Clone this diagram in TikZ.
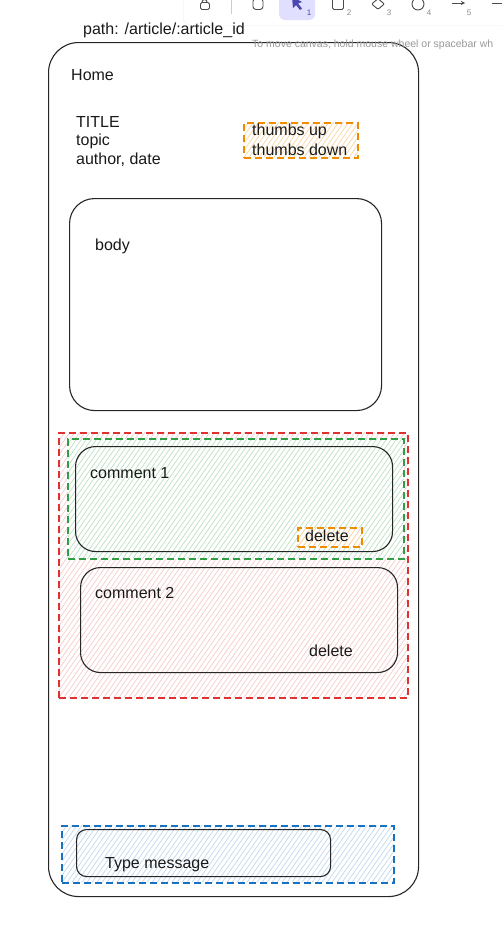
\documentclass[tikz,border=0pt]{standalone}
\usepackage{fontspec}
\setmainfont{Liberation Sans}
\usetikzlibrary{shapes.geometric}
\definecolor{exred}{HTML}{E03131}
\definecolor{exgreen}{HTML}{2F9E44}
\definecolor{exorange}{HTML}{F08C00}
\definecolor{exblue}{HTML}{1971C2}
\definecolor{selbg}{HTML}{E0DFFF}
\definecolor{selfg}{HTML}{4A47B1}
\tikzset{
  sketch/.style={draw=black!85, line width=1.1pt, inner sep=0pt, anchor=north west},
  dashbox/.style={line width=1.5pt, dash pattern=on 7pt off 4pt, inner sep=0pt, anchor=north west},
  hatch/.style={path picture={\foreach \k in {-45,...,75}{\draw[#1, line width=0.6pt, solid] ([xshift=\k*5pt]path picture bounding box.south west) -- ++(300,-428);}}},
  lbl/.style={font=\fontsize{16}{18}\selectfont, anchor=west, inner sep=0pt, text=black!90},
  ico/.style={draw=black!70, line width=0.9pt},
  num/.style={font=\fontsize{8}{9}\selectfont, text=black!45, inner sep=0pt}
}
\begin{document}
\begin{tikzpicture}[x=1pt,y=-1pt]
\useasboundingbox (0,0) rectangle (502,926);
% toolbar panel
\node[fill=white, draw=black!7, rounded corners=8pt, minimum width=340pt, minimum height=40pt, inner sep=0pt, anchor=north west] (toolbar) at (183,-15) {};
\node[ico, rounded corners=1.5pt, minimum width=9pt, minimum height=7pt, inner sep=0pt] (lock) at (205,6) {};
\draw[ico] (lock.north west) ++(2,0) arc[start angle=180,end angle=0,radius=2.5pt];
\coordinate (sepA) at (231,-2); \coordinate (sepB) at (231,14);
\draw[black!20, line width=0.8pt] (sepA) -- (sepB);
\node[ico, rounded corners=3pt, minimum width=10pt, minimum height=11pt, inner sep=0pt] (hand) at (258,4) {};
\node[fill=selbg, rounded corners=6pt, minimum width=36pt, minimum height=30pt, inner sep=0pt] (sel) at (297,5) {};
\coordinate (arA) at (292,-3);
\fill[selfg] (arA) -- ++(10,5) -- ++(-4,1.5) -- ++(4,5) -- ++(-2,1.5) -- ++(-4,-5) -- ++(-3,3) -- cycle;
\node[num, text=selfg] (n1) at (309,13) {1};
\node[ico, rounded corners=1.5pt, minimum width=11pt, minimum height=11pt, inner sep=0pt] (sq) at (338,4) {};
\node[num] (n2) at (349,13) {2};
\node[ico, diamond, minimum width=13pt, minimum height=11pt, inner sep=0pt, rounded corners=1pt] (dia) at (378,4) {};
\node[num] (n3) at (389,13) {3};
\node[ico, circle, minimum size=12pt, inner sep=0pt] (circ) at (418,4) {};
\node[num] (n4) at (429,13) {4};
\coordinate (arrA) at (452,3); \coordinate (arrB) at (465,3);
\draw[ico, -stealth] (arrA) -- (arrB);
\node[num] (n5) at (469,13) {5};
\coordinate (dashA) at (492,3); \coordinate (dashB) at (505,3);
\draw[ico] (dashA) -- (dashB);

% path label
\node[lbl] (path) at (83,30) {path: /article/:article\_id};

% phone outline
\node[sketch, rounded corners=30pt, minimum width=370pt, minimum height=854pt] (phone) at (48,42) {};
\node[font=\fontsize{10.5}{12}\selectfont, text=black!40, anchor=west, inner sep=0pt] (hint) at (252,45) {To move canvas, hold mouse wheel or spacebar wh};

\node[lbl] (home) at (71,75) {Home};
\node[lbl] (title) at (76,122) {TITLE};
\node[lbl] (topic) at (76,141) {topic};
\node[lbl] (author) at (76,160) {author, date};

% thumbs
\node[dashbox, draw=exorange, hatch=exorange!40, minimum width=114pt, minimum height=35pt] (thumbs) at (243,122) {};
\node[lbl] (tup) at (252,131) {thumbs up};
\node[lbl] (tdown) at (252,150) {thumbs down};

% body
\node[sketch, rounded corners=25pt, minimum width=312pt, minimum height=212pt] (body) at (69,198) {};
\node[lbl] (bodyt) at (95,246) {body};

% comments
\node[dashbox, draw=exred, hatch=exred!28, minimum width=349pt, minimum height=265pt] (comments) at (58,432) {};
\node[dashbox, draw=exgreen, fill=white, hatch=exgreen!35, minimum width=336pt, minimum height=120pt] (c1sel) at (67,438) {};
\node[sketch, rounded corners=20pt, minimum width=317pt, minimum height=105pt] (c1) at (75,446) {};
\node[lbl] (c1t) at (90,473) {comment 1};
\node[dashbox, draw=exorange, fill=white, hatch=exorange!45, minimum width=64pt, minimum height=19pt] (del1box) at (297,527) {};
\node[lbl] (del1) at (305,536) {delete};
\node[sketch, rounded corners=20pt, minimum width=317pt, minimum height=105pt] (c2) at (80,567) {};
\node[lbl] (c2t) at (95,593) {comment 2};
\node[lbl] (del2) at (309,651) {delete};

% message
\node[dashbox, draw=exblue, hatch=exblue!30, minimum width=332pt, minimum height=57pt] (msgbox) at (61,825) {};
\node[sketch, rounded corners=10pt, minimum width=254pt, minimum height=47pt] (msg) at (76,829) {};
\node[lbl] (msgt) at (105,865) {Type message};
\end{tikzpicture}
\end{document}
